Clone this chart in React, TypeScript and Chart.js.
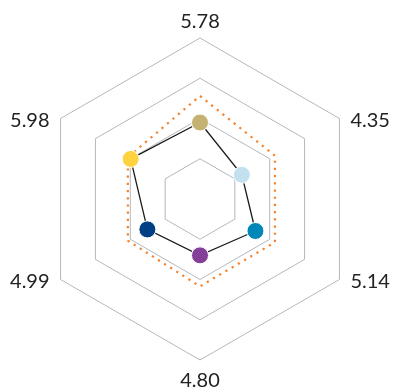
import React, { useEffect, useRef } from "react";
import { Chart, registerables } from "chart.js";

Chart.register(...registerables);

const axisLabels = ["5.78", "4.35", "5.14", "4.80", "4.99", "5.98"];
const seriesValues = [1.9, 1.2, 1.59, 1.4, 1.51, 1.99];
const pointColors = ["#c5b273", "#c2e0ee", "#0087b7", "#843f98", "#003f83", "#fed33f"];
const referenceValues = [2.56, 2.15, 2.15, 2.17, 2.07, 2.07];
const scaleMax = 4;

const labelPlugin = {
  id: "vertexLabels",
  afterDraw(chart: any) {
    const scale = chart.scales.r;
    const ctx = chart.ctx;
    const n = chart.data.labels.length;
    ctx.save();
    ctx.font = "20px Lato";
    ctx.fillStyle = "#222222";
    for (let i = 0; i < n; i++) {
      const p = scale.getPointPosition(i, scale.drawingArea);
      const text = String(chart.data.labels[i]);
      const dx = p.x - scale.xCenter;
      ctx.textBaseline = "alphabetic";
      if (Math.abs(dx) < 1) {
        ctx.textAlign = "center";
        if (p.y < scale.yCenter) ctx.fillText(text, p.x, p.y - 10);
        else ctx.fillText(text, p.x, p.y + 27);
      } else if (dx > 0) {
        ctx.textAlign = "left";
        ctx.fillText(text, p.x + 11, p.y + 8.5);
      } else {
        ctx.textAlign = "right";
        ctx.fillText(text, p.x - 11, p.y + 8.5);
      }
    }
    ctx.restore();
  },
};

export default function App() {
  const ref = useRef<HTMLCanvasElement | null>(null);
  useEffect(() => {
    document.body.style.margin = "0";
    const chart = new Chart(ref.current!, {
      type: "radar",
      data: {
        labels: axisLabels,
        datasets: [
          {
            data: seriesValues,
            borderColor: "#1a1a1a",
            borderWidth: 1.3,
            backgroundColor: "transparent",
            fill: false,
            pointRadius: 8.5,
            pointBackgroundColor: pointColors,
            pointBorderColor: "#ffffff",
            pointBorderWidth: 1,
          },
          {
            data: referenceValues,
            borderColor: "#f5822a",
            borderWidth: 2.2,
            borderDash: [2.2, 5],
            backgroundColor: "transparent",
            fill: false,
            pointRadius: 0,
          },
        ],
      },
      options: {
        animation: false,
        responsive: false,
        layout: { padding: { left: 20, right: 14, top: 38, bottom: 32 } },
        plugins: { legend: { display: false }, tooltip: { enabled: false } },
        scales: {
          r: {
            min: 0,
            max: scaleMax,
            ticks: { display: false, stepSize: 1 },
            angleLines: { display: false },
            grid: { color: "#b3b8bd", lineWidth: 1 },
            pointLabels: { display: false },
          },
        },
      },
      plugins: [labelPlugin],
    });
    return () => chart.destroy();
  }, []);
  return <canvas ref={ref} width={394} height={392} style={{ display: "block" }} />;
}
